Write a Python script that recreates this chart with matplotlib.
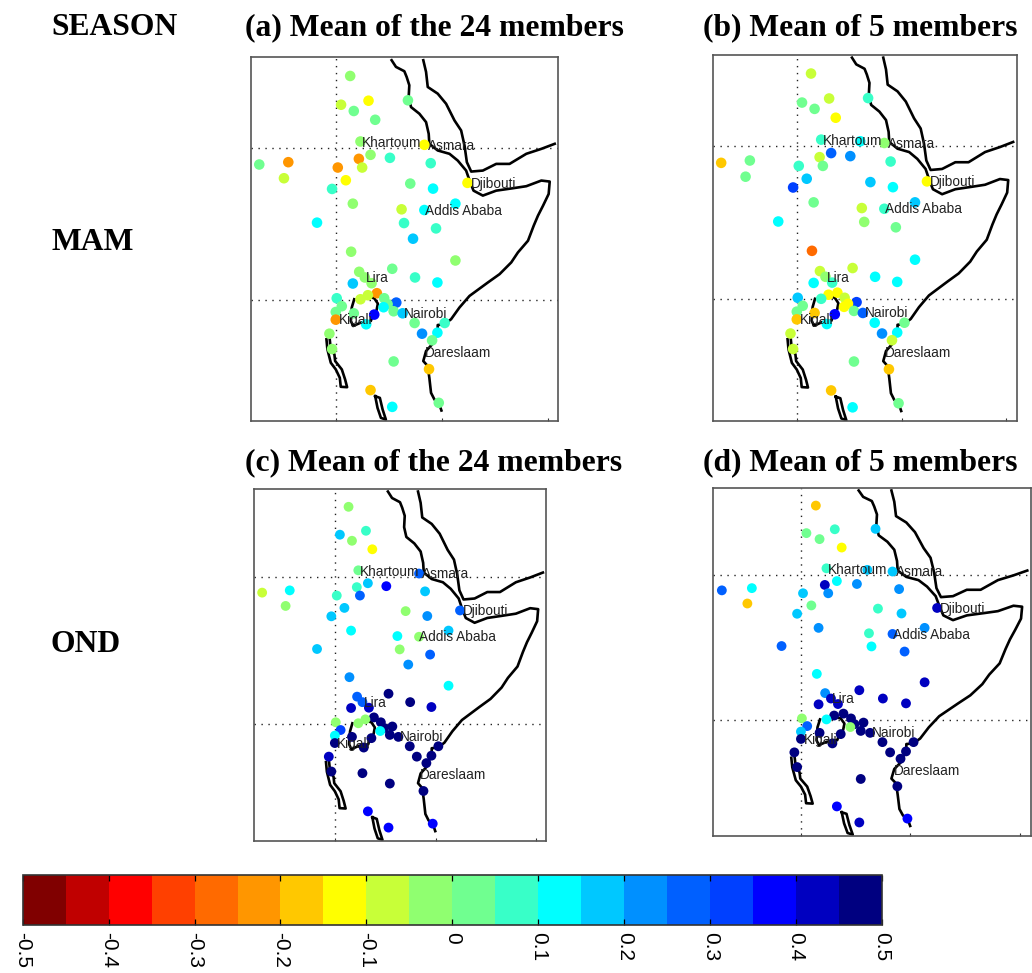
import numpy as np
import matplotlib
matplotlib.use('Agg')
import matplotlib.pyplot as plt
from matplotlib.cm import ScalarMappable
from matplotlib.colors import ListedColormap, Normalize

nan = np.nan

# stations (lon, lat)
lons = [31.36, 30.50, 31.70, 33.09, 33.72, 36.81, 32.33, 36.06, 38.36, 33.28, 32.18, 35.11, 38.96, 22.78, 25.52,
        30.19, 32.49, 25.11, 30.95, 29.65, 37.03, 39.18, 42.43, 31.61, 41.29, 36.21, 38.36, 28.23, 36.44, 39.46,
        37.29, 31.45, 41.29, 35.33, 32.21, 32.74, 37.48, 31.61, 39.59, 33.38, 33.88, 33.03, 32.33, 34.57, 30.09,
        35.71, 30.57, 34.89, 34.51, 30.00, 31.70, 35.46, 33.63, 36.31, 30.00, 37.44, 40.28, 32.87, 38.14, 39.59,
        29.40, 39.09, 29.65, 35.46, 38.80, 33.28, 39.72, 35.33, 32.74]
lats = [22.15, 19.30, 18.68, 19.70, 17.81, 19.74, 15.66, 15.50, 15.33, 14.34, 13.94, 14.04, 13.51, 13.38, 13.61,
        13.08, 13.08, 12.02, 11.82, 10.96, 11.49, 10.99, 11.56, 9.50, 9.50, 8.94, 8.87, 7.62, 7.58, 7.05,
        6.03, 4.74, 3.87, 3.05, 2.75, 2.19, 2.19, 1.59, 1.69, 1.62, 0.63, 0.43, 0.03, 0.13, 0.13,
        -0.30, -0.66, -0.46, -0.76, -1.23, -1.36, -1.16, -1.49, -1.36, -1.99, -2.32, -2.32, -2.45, -3.38, -3.28,
        -3.38, -4.04, -4.90, -6.13, -6.89, -8.97, -10.23, -10.63, -5.07]

vals_a = [-.02, -.06, .02, -.15, .03, .04, -.03, nan, -.15, -.04, -.24, .07, .08, .03, -.22,
          -.24, -.06, -.08, -.12, .06, .03, .11, -.14, -.03, .11, -.07, .12, .13, .06, .07,
          .18, -.02, -.04, .02, -.04, -.03, .09, .17, .13, -.04, -.24, -.07, -.06, .03, .08,
          .27, .01, .03, .12, .02, .02, .04, .36, .18, -.23, .03, .07, .13, .22, .13,
          -.03, .03, -.02, .04, -.16, -.17, .03, .14, nan]
vals_b = [-.07, .03, .03, -.08, -.11, .08, .07, .11, -.03, .28, -.09, .22, .09, -.18, .03,
          .09, .02, .03, .17, .32, .18, .12, -.12, .03, .16, -.08, .08, .13, -.02, .04,
          nan, -.27, .13, -.07, -.06, -.02, .13, .12, .13, .06, -.12, -.11, .07, -.07, .17,
          .32, .04, -.12, -.12, .03, -.16, .03, .36, .27, -.19, .14, .03, .12, .23, .13,
          -.06, -.06, -.08, .03, -.17, -.18, .03, .12, nan]
vals_c = [-.04, .17, -.05, .09, -.11, nan, .03, nan, .27, .16, .05, .36, .15, -.09, .13,
          .09, .29, -.05, .18, .19, -.02, .23, .28, .12, .15, .14, -.02, .17, -.02, .27,
          .22, .22, .14, .46, .28, .25, .46, .44, .44, .44, .46, -.03, -.05, .46, -.02,
          .46, .32, .46, .12, .13, .46, .46, .46, .46, .46, .46, .46, .46, .46, .46,
          .44, .46, .46, .46, .46, .36, .36, .36, .46]
vals_d = [-.17, .04, .01, .08, -.12, .17, .05, .17, .18, .12, .44, .22, .22, .28, .12,
          .19, .23, -.17, .04, .19, .06, .18, .44, .23, .22, .06, .28, .29, .12, .29,
          nan, .13, .44, .44, .23, .44, .44, .44, .44, .44, .46, .46, .12, .46, -.01,
          .46, .28, .46, -.01, .15, .46, .46, .46, .46, .46, .46, .46, .46, .46, .46,
          .46, .46, .46, .46, .46, .36, .36, .44, nan]

# coast lines and lakes
west_lon = [35.27, 35.68, 36.47, 36.69, 36.94, 36.88, 37.10, 37.89, 38.52, 38.77, 38.83, 39.62, 40.73, 41.51, 42.30,
            42.68, 43.00, 43.88, 45.14, 46.72, 47.98, 49.40, 50.19, 50.09, 49.56, 49.08, 48.68, 48.14, 47.19, 46.56,
            45.46, 44.35, 42.62, 41.67, 40.88, 40.25, 39.62, 39.62, 39.09, 38.52, 38.26, 38.68, 38.83, 38.99, 39.31,
            39.72, 39.97]
west_lat = [23.71, 23.05, 22.62, 22.05, 21.23, 20.07, 19.07, 18.41, 17.58, 16.42, 15.43, 14.77, 14.44, 13.77, 12.78,
            11.62, 10.79, 10.30, 10.79, 11.03, 11.23, 11.79, 11.69, 10.46, 9.30, 8.31, 7.32, 5.83, 4.67, 3.68,
            2.52, 1.69, 0.36, -0.79, -1.95, -2.45, -2.52, -3.11, -4.44, -5.10, -6.09, -6.59, -7.75, -9.24, -9.90,
            -10.23, -10.99]
east_lon = [38.26, 38.52, 38.68, 39.62, 40.41, 41.20, 41.83, 42.15, 42.37, 42.78, 43.88, 45.14, 46.40, 47.98, 49.40, 50.66]
east_lat = [23.71, 22.55, 21.06, 20.40, 19.40, 17.75, 16.75, 15.26, 13.61, 12.68, 12.78, 13.44, 13.44, 14.44, 14.93, 15.43]
vic_lon = [31.74, 31.51, 31.42, 31.64, 32.37, 33.31, 33.47, 33.85, 33.97, 33.63, 32.84]
vic_lat = [0.03, -0.79, -2.12, -2.62, -2.28, -2.12, -1.62, -1.06, -0.40, 0.13, 0.36]
tan_lon = [29.12, 29.21, 29.53, 30.00, 30.38, 30.47, 31.07, 30.88, 30.57, 29.94, 29.87, 29.53, 29.43]
tan_lat = [-3.94, -4.93, -6.26, -6.92, -7.75, -8.64, -8.68, -7.91, -6.92, -6.09, -5.43, -4.93, -3.94]
mal_lon = [33.72, 33.94, 34.26, 34.73, 34.42, 34.16, 33.72]
mal_lat = [-9.57, -10.73, -11.72, -11.89, -10.89, -9.74, -9.57]

cities = ['Khartoum', 'Asmara', 'Djibouti', 'Addis Ababa', 'Lira', 'Kigali', 'Nairobi', 'Dareslaam']
city_lon = [32.46, 38.68, 42.71, 38.39, 32.84, 30.25, 36.47, 38.45]
city_lat = [15.53, 15.26, 11.46, 8.81, 2.09, -2.05, -1.39, -5.30]

cbar_ticks = [-0.5, -0.4, -0.3, -0.2, -0.1, 0, 0.1, 0.2, 0.3, 0.4, 0.5]
cbar_labels = ['-0.5', '-0.4', '-0.3', '-0.2', '-0.1', '0', '0.1', '0.2', '0.3', '0.4', '0.5']
level_colors = ['#800000', '#c00000', '#ff0000', '#ff4000', '#ff6a00', '#ff9600', '#ffc800', '#ffff00', '#c8ff38', '#90ff70',
                '#70ff90', '#38ffc8', '#00ffff', '#00c8ff', '#0090ff', '#0060ff', '#0040ff', '#0000ff', '#0000c0', '#000080']

W, H = 1032, 973
cmap = ListedColormap(level_colors)
norm = Normalize(-0.5, 0.5)

fig = plt.figure(figsize=(W / 100, H / 100), dpi=100)


def add_axes_px(left, top, right, bottom):
    return fig.add_axes([left / W, 1 - bottom / H, (right - left) / W, (bottom - top) / H])


def draw_map(box, vals, size):
    ax = add_axes_px(*box)
    ax.set_xlim(22, 51)
    ax.set_ylim(-12, 24)
    ax.axvline(30, color='#222222', lw=1, ls=(0, (1, 4)), zorder=1)
    ax.axhline(0, color='#222222', lw=1, ls=(0, (1, 4)), zorder=1)
    ax.axhline(15, color='#222222', lw=1, ls=(0, (1, 4)), zorder=1)
    for xs, ys in [(west_lon, west_lat), (east_lon, east_lat), (vic_lon, vic_lat), (tan_lon, tan_lat), (mal_lon, mal_lat)]:
        ax.plot(xs, ys, color='black', lw=1.9, zorder=2)
    ax.scatter(lons, lats, c=vals, cmap=cmap, norm=norm, s=size, linewidths=0, zorder=3)
    for name, x, y in zip(cities, city_lon, city_lat):
        ax.text(x, y, name, fontsize=9.8, family='Liberation Sans', color='#222222', ha='left', va='center', zorder=4)
    ax.set_xticks([30, 40, 50])
    ax.set_yticks([])
    ax.set_xticklabels([])
    ax.tick_params(axis='x', direction='in', length=2, width=0.8, color='#333333')
    for s in ax.spines.values():
        s.set_color('#555555')
        s.set_linewidth(1.2)
    return ax


draw_map((251, 57.3, 558.3, 420.7), vals_a, 58)
draw_map((713, 54.7, 1016.7, 421.3), vals_b, 58)
draw_map((254.3, 488.7, 546.3, 841), vals_c, 50)
draw_map((713.3, 487.7, 1031, 835.7), vals_d, 50)

headers = [('SEASON', 51, 35), ('(a) Mean of the 24 members', 245, 35), ('(b) Mean of 5 members', 703, 35),
           ('MAM', 51, 250), ('(c) Mean of the 24 members', 245, 470.5), ('(d) Mean of 5 members', 703, 470.5),
           ('OND', 51, 652)]
for txt, x, y in headers:
    fig.text(x / W, 1 - y / H, txt, fontsize=22.8, fontweight='bold', family='Liberation Serif', ha='left', va='baseline')

# colorbar
cax = add_axes_px(22.7, 875, 882, 925)
cb = fig.colorbar(ScalarMappable(norm=norm, cmap=cmap), cax=cax, orientation='horizontal')
cb.set_ticks(cbar_ticks)
cb.set_ticklabels(cbar_labels)
cax.tick_params(axis='x', direction='in', top=True, length=4, width=0.9, pad=5, labelsize=15)
for lab in cax.get_xticklabels():
    lab.set_rotation(-90)
    lab.set_family('Liberation Sans')
    lab.set_va('top')
    lab.set_ha('center')
cb.outline.set_edgecolor('#333333')
cb.outline.set_linewidth(1.2)

fig.savefig('out.png', dpi=100)
